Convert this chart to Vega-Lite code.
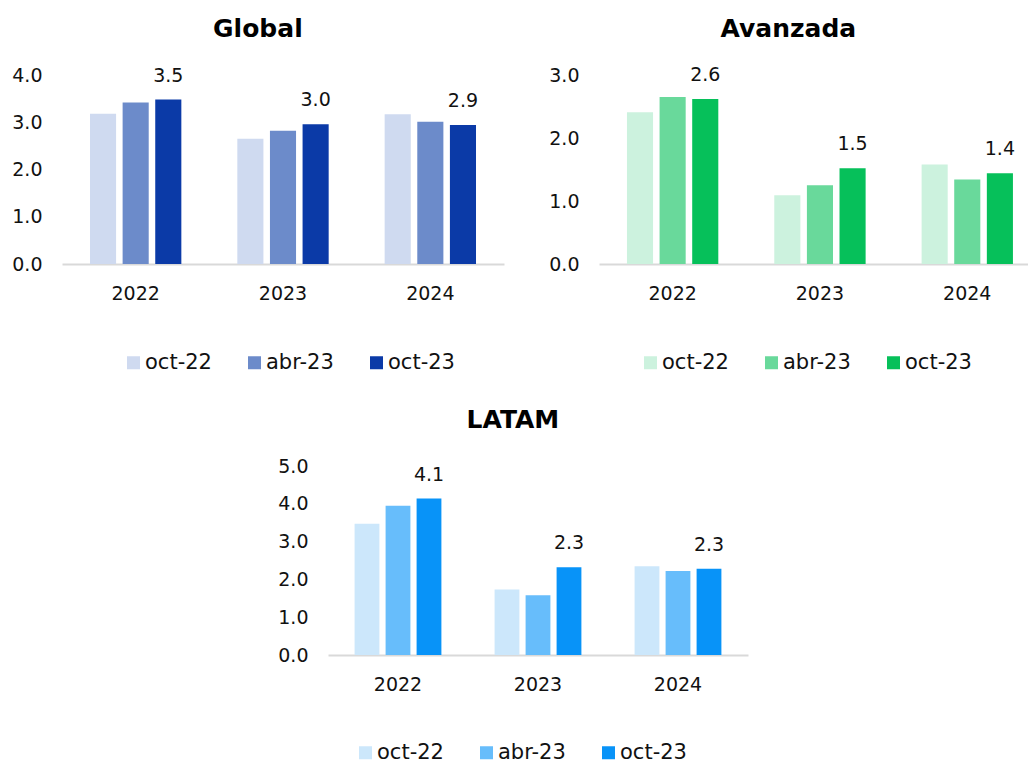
{
  "$schema": "https://vega.github.io/schema/vega-lite/v6.json",
  "padding": {"left": 11, "top": 16, "right": 0, "bottom": 0},
  "datasets": {
    "d": [
      {"region": "Global", "year": "2022", "serie": "oct-22", "value": 3.18},
      {"region": "Global", "year": "2022", "serie": "abr-23", "value": 3.42},
      {"region": "Global", "year": "2022", "serie": "oct-23", "value": 3.48},
      {"region": "Global", "year": "2023", "serie": "oct-22", "value": 2.65},
      {"region": "Global", "year": "2023", "serie": "abr-23", "value": 2.82},
      {"region": "Global", "year": "2023", "serie": "oct-23", "value": 2.96},
      {"region": "Global", "year": "2024", "serie": "oct-22", "value": 3.17},
      {"region": "Global", "year": "2024", "serie": "abr-23", "value": 3.01},
      {"region": "Global", "year": "2024", "serie": "oct-23", "value": 2.94},
      {"region": "Avanzada", "year": "2022", "serie": "oct-22", "value": 2.41},
      {"region": "Avanzada", "year": "2022", "serie": "abr-23", "value": 2.65},
      {"region": "Avanzada", "year": "2022", "serie": "oct-23", "value": 2.62},
      {"region": "Avanzada", "year": "2023", "serie": "oct-22", "value": 1.09},
      {"region": "Avanzada", "year": "2023", "serie": "abr-23", "value": 1.25},
      {"region": "Avanzada", "year": "2023", "serie": "oct-23", "value": 1.52},
      {"region": "Avanzada", "year": "2024", "serie": "oct-22", "value": 1.58},
      {"region": "Avanzada", "year": "2024", "serie": "abr-23", "value": 1.34},
      {"region": "Avanzada", "year": "2024", "serie": "oct-23", "value": 1.44},
      {"region": "LATAM", "year": "2022", "serie": "oct-22", "value": 3.47},
      {"region": "LATAM", "year": "2022", "serie": "abr-23", "value": 3.95},
      {"region": "LATAM", "year": "2022", "serie": "oct-23", "value": 4.14},
      {"region": "LATAM", "year": "2023", "serie": "oct-22", "value": 1.73},
      {"region": "LATAM", "year": "2023", "serie": "abr-23", "value": 1.58},
      {"region": "LATAM", "year": "2023", "serie": "oct-23", "value": 2.32},
      {"region": "LATAM", "year": "2024", "serie": "oct-22", "value": 2.35},
      {"region": "LATAM", "year": "2024", "serie": "abr-23", "value": 2.22},
      {"region": "LATAM", "year": "2024", "serie": "oct-23", "value": 2.28}
    ]
  },
  "config": {
    "font": "DejaVu Sans",
    "view": {"stroke": null},
    "axis": {"labelFont": "DejaVu Sans", "labelFontSize": 19, "labelColor": "#111111", "grid": false, "ticks": false, "title": null, "domain": false},
    "axisX": {"domain": true, "domainColor": "#d9d9d9", "domainWidth": 2, "labelAngle": 0, "labelPadding": 20},
    "axisY": {"labelPadding": 20},
    "legend": {"orient": "none", "direction": "horizontal", "title": null, "labelFontSize": 21, "labelFont": "DejaVu Sans", "labelColor": "#111111", "symbolType": "square", "symbolSize": 169, "symbolStrokeWidth": 0, "symbolOpacity": 1, "columnPadding": 32, "labelOffset": 1},
    "title": {"fontSize": 25, "fontWeight": "bold", "font": "DejaVu Sans", "color": "#000000", "anchor": "middle", "frame": "bounds", "offset": 24}
  },
  "spacing": 35,
  "resolve": {"scale": {"color": "independent", "y": "independent", "x": "independent", "xOffset": "independent"}, "legend": {"color": "independent"}},
  "vconcat": [
    {
      "spacing": 44,
      "resolve": {"scale": {"color": "independent", "y": "independent", "x": "independent", "xOffset": "independent"}, "legend": {"color": "independent"}},
      "hconcat": [
        {
          "title": "Global",
          "width": 442,
          "height": 189,
          "data": {"name": "d"},
          "transform": [{"filter": "datum.region === 'Global'"}],
          "encoding": {
            "x": {"field": "year", "type": "nominal", "scale": {"paddingInner": 0.38, "paddingOuter": 0.19}},
            "xOffset": {"field": "serie", "type": "nominal", "sort": ["oct-22", "abr-23", "oct-23"], "scale": {"paddingInner": 0.2}},
            "y": {"field": "value", "type": "quantitative", "scale": {"domain": [0, 4]}, "axis": {"values": [0, 1, 2, 3, 4], "format": ".1f"}}
          },
          "layer": [
            {
              "mark": {"type": "bar"},
              "encoding": {
                "color": {"field": "serie", "type": "nominal", "sort": ["oct-22", "abr-23", "oct-23"], "scale": {"domain": ["oct-22", "abr-23", "oct-23"], "range": ["#cfdaf0", "#6c8bca", "#0b3aa7"]}, "legend": {"legendX": 61, "legendY": 277}}
              }
            },
            {
              "transform": [{"filter": "datum.serie === 'oct-23'"}],
              "mark": {"type": "text", "dy": -24, "baseline": "middle", "fontSize": 19, "color": "#111111"},
              "encoding": {"text": {"field": "value", "type": "quantitative", "format": ".1f"}}
            }
          ]
        },
        {
          "title": "Avanzada",
          "width": 429,
          "height": 189,
          "data": {"name": "d"},
          "transform": [{"filter": "datum.region === 'Avanzada'"}],
          "encoding": {
            "x": {"field": "year", "type": "nominal", "scale": {"paddingInner": 0.38, "paddingOuter": 0.146, "align": 0.65}},
            "xOffset": {"field": "serie", "type": "nominal", "sort": ["oct-22", "abr-23", "oct-23"], "scale": {"paddingInner": 0.2}},
            "y": {"field": "value", "type": "quantitative", "scale": {"domain": [0, 3]}, "axis": {"values": [0, 1, 2, 3], "format": ".1f"}}
          },
          "layer": [
            {
              "mark": {"type": "bar"},
              "encoding": {
                "color": {"field": "serie", "type": "nominal", "sort": ["oct-22", "abr-23", "oct-23"], "scale": {"domain": ["oct-22", "abr-23", "oct-23"], "range": ["#ccf2de", "#69d99b", "#06c05a"]}, "legend": {"legendX": 41, "legendY": 277}}
              }
            },
            {
              "transform": [{"filter": "datum.serie === 'oct-23'"}],
              "mark": {"type": "text", "dy": -24, "baseline": "middle", "fontSize": 19, "color": "#111111"},
              "encoding": {"text": {"field": "value", "type": "quantitative", "format": ".1f"}}
            }
          ]
        }
      ]
    },
    {
      "spacing": 20,
      "resolve": {"scale": {"color": "independent", "y": "independent", "x": "independent", "xOffset": "independent"}, "legend": {"color": "independent"}},
      "hconcat": [
        {
          "width": 195,
          "height": 10,
          "data": {"values": []},
          "mark": {"type": "point", "opacity": 0}
        },
        {
          "title": "LATAM",
          "width": 420,
          "height": 189,
          "data": {"name": "d"},
          "transform": [{"filter": "datum.region === 'LATAM'"}],
          "encoding": {
            "x": {"field": "year", "type": "nominal", "scale": {"paddingInner": 0.38, "paddingOuter": 0.19}},
            "xOffset": {"field": "serie", "type": "nominal", "sort": ["oct-22", "abr-23", "oct-23"], "scale": {"paddingInner": 0.2}},
            "y": {"field": "value", "type": "quantitative", "scale": {"domain": [0, 5]}, "axis": {"values": [0, 1, 2, 3, 4, 5], "format": ".1f"}}
          },
          "layer": [
            {
              "mark": {"type": "bar"},
              "encoding": {
                "color": {"field": "serie", "type": "nominal", "sort": ["oct-22", "abr-23", "oct-23"], "scale": {"domain": ["oct-22", "abr-23", "oct-23"], "range": ["#cce7fb", "#67bdfb", "#0893f8"]}, "legend": {"legendX": 27, "legendY": 276}}
              }
            },
            {
              "transform": [{"filter": "datum.serie === 'oct-23'"}],
              "mark": {"type": "text", "dy": -24, "baseline": "middle", "fontSize": 19, "color": "#111111"},
              "encoding": {"text": {"field": "value", "type": "quantitative", "format": ".1f"}}
            }
          ]
        }
      ]
    }
  ]
}
